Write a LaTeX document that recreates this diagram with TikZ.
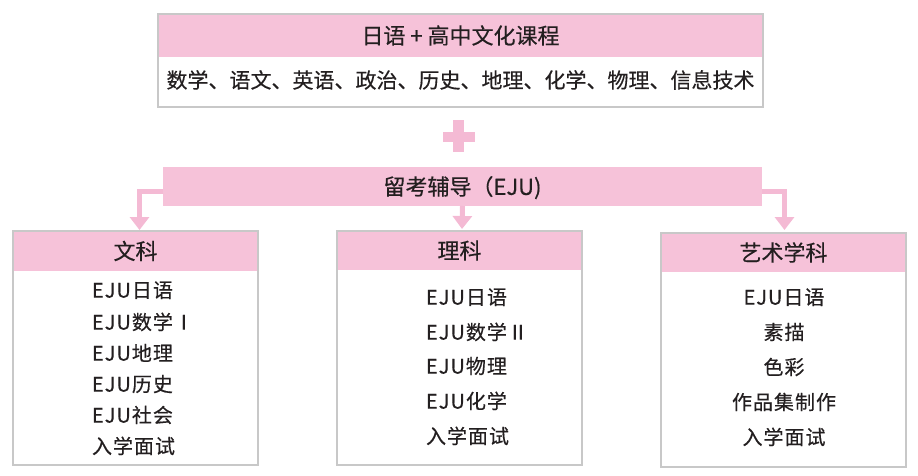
\documentclass[tikz,border=0pt]{standalone}
\usepackage{fontspec}
\setmainfont{Noto Sans CJK SC}[UprightFeatures={FakeBold=0.4}]
\newfontfamily\spaced{Noto Sans CJK SC}[LetterSpace=5,UprightFeatures={FakeBold=0.4}]
\usetikzlibrary{arrows.meta}
\definecolor{pk}{RGB}{246,194,217}
\definecolor{pka}{RGB}{244,186,212}
\definecolor{frm}{RGB}{200,200,200}
\definecolor{ink}{RGB}{35,31,32}
\tikzset{
  hdr/.style={fill=pk, draw=none, inner sep=0pt, outer sep=0pt, text=ink, text height=19.4pt, text depth=2.6pt, font=\fontsize{22}{26}\selectfont},
  frame/.style={draw=frm, line width=1.5pt, fill=none, inner sep=0pt, outer sep=0pt},
  subj/.style={inner sep=0pt, outer sep=0pt, text=ink, text height=18.5pt, text depth=2.5pt, font=\fontsize{21}{25}\selectfont},
  item/.style={inner sep=0pt, outer sep=0pt, text=ink, text height=17.6pt, text depth=2.4pt, font=\spaced\fontsize{20}{24}\selectfont},
  conn/.style={draw=pka, line width=5pt, line join=miter, -{Triangle[width=19pt,length=13pt]}},
}
\begin{document}
\begin{tikzpicture}[x=1pt,y=-1pt]
\useasboundingbox (0,0) rectangle (918,475);
% top box
\node[hdr, minimum width=605pt, minimum height=43pt] (tophd) at (460.5,35.5) {日语 + 高中文化课程};
\node[subj] (toplist) at (460.5,80) {数学、语文、英语、政治、历史、地理、化学、物理、信息技术};
\node[frame, minimum width=605pt, minimum height=93pt] (topbox) at (460.5,60.5) {};
% plus sign
\fill[pka] (453,120) rectangle (464,152);
\fill[pka] (443,132) rectangle (475,142);
% EJU bar
\node[hdr, minimum width=599pt, minimum height=39pt] (bar) at (462.5,186.5) {留考辅导（EJU)};
% arrow tips
\coordinate (t1) at (139.5,230);
\coordinate (t2) at (462,229);
\coordinate (t3) at (784.5,230);
\draw[conn] ([yshift=-4.5pt]bar.west) -| (t1);
\draw[conn] (bar.south) -- (t2);
\draw[conn] ([yshift=-4.5pt]bar.east) -| (t3);
% left panel
\node[hdr, minimum width=245pt, minimum height=40pt] (wenhd) at (135.5,251) {文科};
\node[item, anchor=west] (w1) at (92,290) {EJU日语};
\node[item, anchor=west] (w2) at (92,322) {EJU数学Ⅰ};
\node[item, anchor=west] (w3) at (92,353) {EJU地理};
\node[item, anchor=west] (w4) at (92,384) {EJU历史};
\node[item, anchor=west] (w5) at (92,415) {EJU社会};
\node[item, anchor=west] (w6) at (92,446) {入学面试};
\node[frame, minimum width=245pt, minimum height=234pt] (wenbox) at (135.5,348) {};
% middle panel
\node[hdr, minimum width=245pt, minimum height=39pt] (lihd) at (459.5,250.5) {理科};
\node[item, anchor=west] (l1) at (426,297) {EJU日语};
\node[item, anchor=west] (l2) at (426,332) {EJU数学Ⅱ};
\node[item, anchor=west] (l3) at (426,366) {EJU物理};
\node[item, anchor=west] (l4) at (426,401) {EJU化学};
\node[item, anchor=west] (l5) at (426,436) {入学面试};
\node[frame, minimum width=245pt, minimum height=234pt] (libox) at (459.5,348) {};
% right panel
\node[hdr, minimum width=245pt, minimum height=39pt] (yihd) at (783.5,252.5) {艺术学科};
\node[item] (y1) at (784,297) {EJU日语};
\node[item] (y2) at (784,332) {素描};
\node[item] (y3) at (784,367) {色彩};
\node[item] (y4) at (784,402) {作品集制作};
\node[item] (y5) at (784,437) {入学面试};
\node[frame, minimum width=245pt, minimum height=234pt] (yibox) at (783.5,350) {};
\end{tikzpicture}
\end{document}
